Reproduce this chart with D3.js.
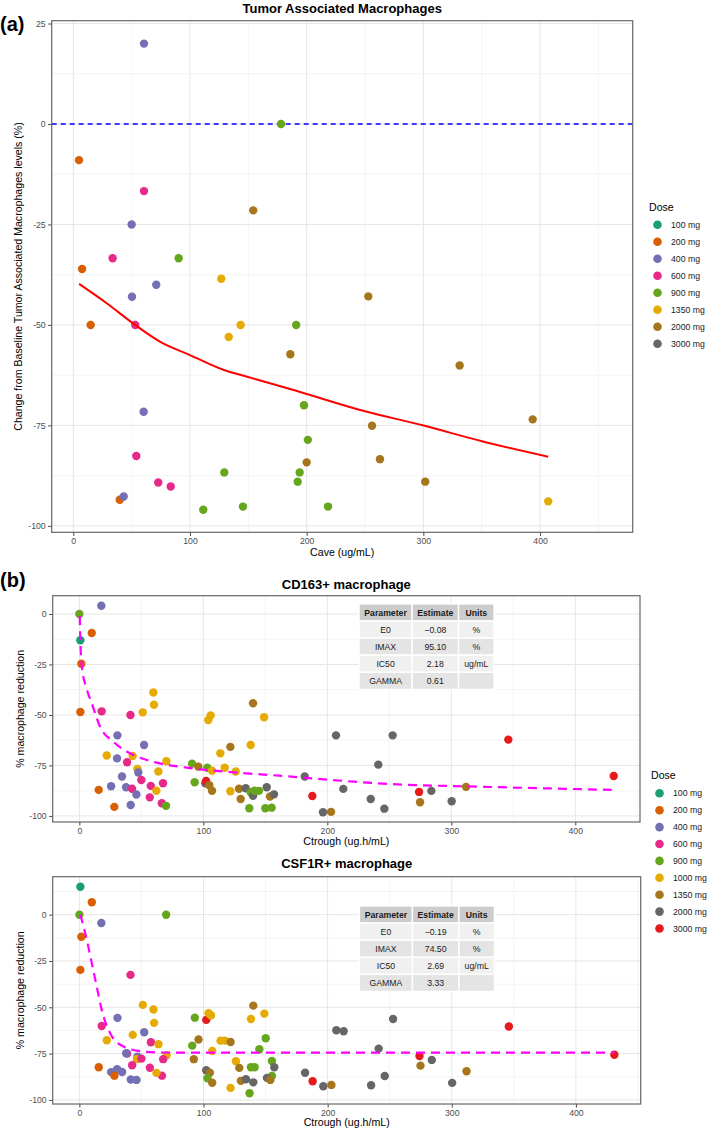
<!DOCTYPE html>
<html><head><meta charset="utf-8">
<script src="https://cdn.jsdelivr.net/npm/d3@7"></script>
<style>
body{margin:0;background:#fff}
text{font-family:"Liberation Sans",Arial,Helvetica,sans-serif}
</style>
</head><body>
<svg id="c" width="709" height="1131"></svg>
<script>
// ---------- DATA ----------
const doseA = ["100 mg","200 mg","400 mg","600 mg","900 mg","1350 mg","2000 mg","3000 mg"];
const colorA = ["#1B9E77","#D95F02","#7570B3","#E7298A","#66A61E","#E6AB02","#A6761D","#666666"];
const doseB = ["100 mg","200 mg","400 mg","600 mg","900 mg","1000 mg","1350 mg","2000 mg","3000 mg"];
const colorB = ["#1B9E77","#D95F02","#7570B3","#E7298A","#66A61E","#E6AB02","#A6761D","#666666","#E41A1C"];

// Panel (a): Tumor Associated Macrophages
const aDose = [400,900,200,600,2000,400,600,900,200,1350,400,400,200,600,1350,900,1350,2000,400,900,900,600,2000,900,900,900,600,600,200,400,900,900,900,2000,2000,2000,2000,2000,2000,1350];
const aCave = [60.6,178,4.9,60.6,154.2,50,33.7,90.3,7.5,126.8,71.1,50.3,14.9,53.1,143.4,191,133.2,186,60.3,197.7,201,54,200,129.4,194,192.3,72.8,83.5,39.8,43.2,111.4,145.4,218.3,252.8,331.1,393.7,256,262.8,301.6,407];
const aChange = [20,0,-9,-16.7,-21.5,-25,-33.4,-33.4,-36.1,-38.5,-40,-43,-50,-50,-50,-50,-53,-57.3,-71.6,-70,-78.6,-82.6,-84.2,-86.7,-86.7,-89,-89.2,-90.2,-93.5,-92.7,-96,-95.2,-95.2,-42.9,-60.1,-73.5,-75.1,-83.4,-89,-93.9];
const aFitX = [5,28.6,53,75,100,131,143,191,245,301,351,407];
const aFitY = [-39.8,-44.6,-50,-54.3,-57.5,-61.4,-62.4,-66.4,-71.1,-75.1,-79,-82.8];

// Panel (b) top: CD163+ macrophage
const cdDose = [900,400,200,100,200,200,600,600,1000,1000,1000,400,400,1000,400,1000,600,1000,1000,400,1000,400,600,600,200,400,400,600,600,1000,400,600,600,200,400,900,
  900,1350,900,900,1000,2000,3000,1350,1350,1000,1000,1000,1350,1000,1000,1000,1350,1350,2000,1000,1350,1000,900,2000,900,900,900,900,900,2000,1350,2000,
  2000,3000,2000,1350,2000,2000,2000,2000,2000,2000,3000,1350,2000,2000,1350,3000,3000];
const cdX = [0,17.7,10,0.8,1.6,0.8,18,41.2,51.1,59.7,60.2,30.7,52.2,22.1,30.4,43,38.5,70.2,46.8,47.6,63.7,34.4,50,67.5,15.6,25.6,37.7,42.5,57.6,62.1,46,56.8,66.5,28.2,41.4,69.9,
  90.9,96,93,103.2,107,101.6,102.2,104.8,107,104,105.9,113.7,121.8,117.2,126.1,121.8,128.8,130.1,134.2,138.2,140.1,149,138.2,140.1,141.2,144.9,137.1,150,155.1,151.1,153.8,157,
  181.8,187.9,196.5,203,207,212.9,252.7,241.1,235,246,274,274.8,283.9,300.3,311.9,346,431];
const cdY = [0,4.1,-9.4,-13,-24.6,-48.5,-48.2,-50,-48.7,-38.9,-44.9,-60.1,-64.9,-70.1,-71.5,-70.3,-73.4,-72.9,-76.7,-78.5,-78,-80.5,-82.2,-83.8,-87.1,-85.3,-85.8,-86.5,-85.1,-87.5,-89.4,-90.8,-93.7,-95.5,-94.6,-95,
  -74.1,-75.6,-83.3,-76.1,-77.6,-83.8,-82.7,-84.8,-87.5,-52.5,-50.2,-69,-65.8,-76.1,-78,-87.8,-86.5,-91.6,-86.3,-64.9,-44.2,-51.1,-88.3,-90,-87.5,-87.6,-96.2,-96.2,-95.9,-85.8,-90.4,-89.3,
  -80.5,-90.1,-98.2,-98,-60.1,-86.6,-60.1,-74.6,-91.6,-96.4,-88.1,-93.2,-87.6,-92.7,-85.6,-62.2,-80.2];
const cdFitX = [0.3,0.8,2,5.4,10,16.7,27.4,43.5,62.4,86.6,124.2,164.5,221,250.6,323,429.4];
const cdFitY = [-1,-13,-26,-36,-44.2,-55.8,-63.2,-69.8,-73.6,-76.1,-78.4,-80.2,-83,-84.2,-85.5,-87.1];
const cdParam = ["E0","IMAX","IC50","GAMMA"];
const cdEst = ["\u22120.08","95.10","2.18","0.61"];
const cdUnit = ["%","%","ug/mL",""];

// Panel (b) bottom: CSF1R+ macrophage
const csDose = [100,200,900,900,400,200,200,600,1000,1000,1000,400,600,400,1000,1000,600,1000,600,400,1000,400,1000,600,600,200,600,600,400,400,400,200,600,1000,400,400,
  900,900,1350,1350,3000,1000,1000,1000,2000,1350,900,1350,1000,1000,1350,1000,1350,1350,2000,1000,1000,1350,1000,900,900,900,900,900,2000,900,900,2000,1350,2000,
  2000,3000,2000,1350,2000,2000,2000,2000,2000,2000,3000,1350,2000,2000,1350,3000,3000];
const csX = [0.8,10,0,69.9,17.7,1.6,0.8,41.2,51.1,59.7,60.2,30.7,18,52.2,22.1,43,57.6,63.7,38.5,37.7,70.2,46.8,46.3,50,67.5,15.6,42.5,56.8,25.6,30.4,34.4,28.2,66.5,62.1,41.4,46,
  90.9,93,96,92.2,102.2,104,106,107,102.2,105.1,103.2,107,113.7,117.2,121.8,126.1,128.8,130.1,134.2,121.8,138.2,140.1,149,145,150.1,138.2,141.2,137.1,140.1,155.1,155.1,151.1,153.8,157,
  181.8,187.9,196.5,203,207,212.9,252.7,241.1,235,246,274,274.8,283.9,300.3,311.9,346,431];
const csY = [15.1,6.7,0,0,-4.5,-11.9,-29.8,-32.5,-48.7,-51.2,-58.4,-55.7,-60.1,-63.5,-67.8,-64.9,-68.9,-69.9,-75,-74.8,-75.9,-76.6,-78,-77.7,-78,-82.4,-81.3,-82.6,-85,-83.4,-84.9,-86.9,-86.9,-85.4,-89,-89.2,
  -70.7,-55.6,-67.4,-78,-56.8,-53.2,-54.3,-73.6,-84,-85.3,-88.3,-90.7,-68,-68,-68.7,-79.1,-82.7,-89.7,-88.8,-93.5,-56.3,-49.1,-53.4,-72.6,-66.7,-82.4,-82.4,-96.4,-90.5,-79,-87.1,-88.1,-89.2,-82.4,
  -85.3,-89.9,-92.6,-91.9,-62.4,-62.9,-56.3,-72.3,-92.1,-87.1,-76.3,-81.5,-78.4,-90.8,-84.5,-60.4,-75.6];
const csFitX = [0.8,5.4,10,14,18,24.8,35.5,51.6,67,100,431];
const csFitY = [0,-11.9,-26.2,-38.9,-51.4,-64,-71.2,-73.9,-74.4,-74.5,-74.5];
const csParam = ["E0","IMAX","IC50","GAMMA"];
const csEst = ["\u22120.19","74.50","2.69","3.33"];
const csUnit = ["%","%","ug/mL",""];

const tableHeader = ["Parameter","Estimate","Units"];
const xTicks = [0,100,200,300,400];
const xMinor = [50,150,250,350,450];

// ---------- DRAWING ----------
const svg = d3.select("#c");
const fmt = v => (v < 0 ? "-" + Math.abs(v) : String(v));

function panel(o){
  const x = d3.scaleLinear(o.xDom, [o.l, o.r]);
  const y = d3.scaleLinear(o.yDom, [o.b, o.t]);
  const g = svg.append("g");
  g.selectAll(".mnx").data(o.xMinor.filter(v=>v>o.xDom[0]&&v<o.xDom[1])).join("line")
    .attr("x1",d=>x(d)).attr("x2",d=>x(d)).attr("y1",o.t).attr("y2",o.b)
    .attr("stroke","#EFEFEF").attr("stroke-width",0.7);
  g.selectAll(".mny").data(o.yMinor.filter(v=>v>o.yDom[0]&&v<o.yDom[1])).join("line")
    .attr("y1",d=>y(d)).attr("y2",d=>y(d)).attr("x1",o.l).attr("x2",o.r)
    .attr("stroke","#EFEFEF").attr("stroke-width",0.7);
  g.selectAll(".mjx").data(o.xTicks).join("line")
    .attr("x1",d=>x(d)).attr("x2",d=>x(d)).attr("y1",o.t).attr("y2",o.b)
    .attr("stroke","#E6E6E6").attr("stroke-width",1);
  g.selectAll(".mjy").data(o.yTicks).join("line")
    .attr("y1",d=>y(d)).attr("y2",d=>y(d)).attr("x1",o.l).attr("x2",o.r)
    .attr("stroke","#E6E6E6").attr("stroke-width",1);
  const ax = g.append("g").attr("transform",`translate(0,${o.b})`)
    .call(d3.axisBottom(x).tickValues(o.xTicks).tickFormat(fmt).tickSize(3.5).tickPadding(2.5));
  const ay = g.append("g").attr("transform",`translate(${o.l},0)`)
    .call(d3.axisLeft(y).tickValues(o.yTicks).tickFormat(fmt).tickSize(3.5).tickPadding(2.5));
  [ax,ay].forEach(a=>{
    a.select(".domain").remove();
    a.selectAll("line").attr("stroke","#444");
    a.selectAll("text").attr("fill","#4D4D4D").style("font-size","8.7px").style("font-family",'"Liberation Sans",Arial,sans-serif');
  });
  svg.append("text").attr("x",(o.l+o.r)/2).attr("y",o.titleY).attr("text-anchor","middle")
    .style("font-size","13px").style("font-weight","bold").attr("fill","#000").text(o.title);
  svg.append("text").attr("x",(o.l+o.r)/2).attr("y",o.b+o.xLabOff).attr("text-anchor","middle")
    .style("font-size","10.6px").attr("fill","#000").text(o.xLabel);
  svg.append("text").attr("transform",`translate(${o.yLabX},${(o.t+o.b)/2}) rotate(-90)`).attr("text-anchor","middle")
    .style("font-size","10.6px").attr("fill","#000").text(o.yLabel);
  return {x,y,g};
}

function drawPoints(p, dose, xs, ys, doseNames, colors){
  const cmap = d3.scaleOrdinal(doseNames, colors);
  p.g.append("g").selectAll("circle").data(d3.range(xs.length)).join("circle")
    .attr("cx",i=>p.x(xs[i])).attr("cy",i=>p.y(ys[i])).attr("r",4.2)
    .attr("fill",i=>cmap(dose[i]+" mg"));
}

function drawBorder(o){
  svg.append("rect").attr("x",o.l).attr("y",o.t).attr("width",o.r-o.l).attr("height",o.b-o.t)
    .attr("fill","none").attr("stroke","#666").attr("stroke-width",1.2);
}

function legend(x0, titleY, itemY0, step, names, colors){
  const g = svg.append("g");
  g.append("text").attr("x",x0).attr("y",titleY).style("font-size","10.6px").attr("fill","#000").text("Dose");
  names.forEach((n,i)=>{
    g.append("circle").attr("cx",x0+8.5).attr("cy",itemY0+i*step).attr("r",4.3).attr("fill",colors[i]);
    g.append("text").attr("x",x0+22).attr("y",itemY0+i*step+3.1).style("font-size","8.7px").attr("fill","#1a1a1a").text(n);
  });
}

function table(p, xLeft, yTop, params, est, units){
  const colW = [53, 46.5, 35.5];
  const rowH = 17.1;
  const x0 = p.x(xLeft), y0 = p.y(yTop);
  const g = svg.append("g");
  const rows = [tableHeader].concat(params.map((d,i)=>[d, est[i], units[i]]));
  rows.forEach((r,ri)=>{
    let cx = x0;
    r.forEach((c,ci)=>{
      const fill = ri===0 ? "#CCCCCC" : (ri%2===1 ? "#F0F0F0" : "#E4E4E4");
      g.append("rect").attr("x",cx).attr("y",y0+ri*rowH).attr("width",colW[ci]).attr("height",rowH)
        .attr("fill",fill).attr("stroke","#fff").attr("stroke-width",1.4);
      g.append("text").attr("x",cx+colW[ci]/2).attr("y",y0+ri*rowH+rowH/2+3.1).attr("text-anchor","middle")
        .style("font-size","8.7px").style("font-weight",ri===0?"bold":"normal").attr("fill","#1a1a1a").text(c);
      cx += colW[ci];
    });
  });
}

// ----- Panel (a)
const oa = {l:51.7,t:20.7,r:632.7,b:532.3,xDom:[-18.5,479.4],yDom:[-101.6,25.7],
  xTicks:xTicks,xMinor:xMinor,yTicks:[25,0,-25,-50,-75,-100],yMinor:[12.5,-12.5,-37.5,-62.5,-87.5],
  title:"Tumor Associated Macrophages",titleY:13,xLabel:"Cave (ug/mL)",xLabOff:24,
  yLabel:"Change from Baseline Tumor Associated Macrophages levels (%)",yLabX:21.5};
const pa = panel(oa);
pa.g.append("line").attr("x1",oa.l).attr("x2",oa.r).attr("y1",pa.y(0)).attr("y2",pa.y(0))
  .attr("stroke","#0000FF").attr("stroke-width",1.3).attr("stroke-dasharray","5,4");
drawPoints(pa, aDose, aCave, aChange, doseA, colorA);
pa.g.append("path").datum(d3.range(aFitX.length))
  .attr("d", d3.line().x(i=>pa.x(aFitX[i])).y(i=>pa.y(aFitY[i])).curve(d3.curveMonotoneX))
  .attr("fill","none").attr("stroke","#FF0000").attr("stroke-width",2);
drawBorder(oa);
legend(649, 210.5, 224.7, 17, doseA, colorA);
svg.append("text").attr("x",0).attr("y",31).style("font-size","20px").style("font-weight","bold").text("(a)");

// ----- Panel (b) top
const ob1 = {l:52.7,t:595.7,r:640,b:822,xDom:[-21.5,452.2],yDom:[-103,9.06],
  xTicks:xTicks,xMinor:xMinor,yTicks:[0,-25,-50,-75,-100],yMinor:[-12.5,-37.5,-62.5,-87.5],
  title:"CD163+ macrophage",titleY:588.5,xLabel:"Ctrough (ug.h/mL)",xLabOff:22.5,
  yLabel:"% macrophage reduction",yLabX:23.5};
const pb1 = panel(ob1);
table(pb1, 225.6, 5, cdParam, cdEst, cdUnit);
drawPoints(pb1, cdDose, cdX, cdY, doseB, colorB);
pb1.g.append("path").datum(d3.range(cdFitX.length))
  .attr("d", d3.line().x(i=>pb1.x(cdFitX[i])).y(i=>pb1.y(cdFitY[i])).curve(d3.curveMonotoneX))
  .attr("fill","none").attr("stroke","#FF00FF").attr("stroke-width",2.2).attr("stroke-dasharray","9,6");
drawBorder(ob1);

// ----- Panel (b) bottom
const ob2 = {l:52.7,t:876.7,r:640.7,b:1104,xDom:[-21.5,452.2],yDom:[-102.2,20.5],
  xTicks:xTicks,xMinor:xMinor,yTicks:[0,-25,-50,-75,-100],yMinor:[12.5,-12.5,-37.5,-62.5,-87.5],
  title:"CSF1R+ macrophage",titleY:868.3,xLabel:"Ctrough (ug.h/mL)",xLabOff:22,
  yLabel:"% macrophage reduction",yLabX:23.5};
const pb2 = panel(ob2);
table(pb2, 225.6, 4.7, csParam, csEst, csUnit);
drawPoints(pb2, csDose, csX, csY, doseB, colorB);
pb2.g.append("path").datum(d3.range(csFitX.length))
  .attr("d", d3.line().x(i=>pb2.x(csFitX[i])).y(i=>pb2.y(csFitY[i])).curve(d3.curveMonotoneX))
  .attr("fill","none").attr("stroke","#FF00FF").attr("stroke-width",2.2).attr("stroke-dasharray","9,6");
drawBorder(ob2);

legend(651, 779, 793.3, 16.9, doseB, colorB);
svg.append("text").attr("x",0).attr("y",587).style("font-size","20px").style("font-weight","bold").text("(b)");
</script>
</body></html>
